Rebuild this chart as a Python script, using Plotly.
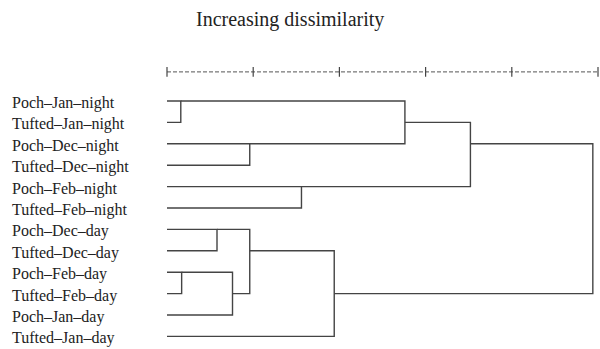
import plotly.graph_objects as go

# ---- data ----
leaf_labels = [
    "Poch–Jan–night", "Tufted–Jan–night", "Poch–Dec–night", "Tufted–Dec–night",
    "Poch–Feb–night", "Tufted–Feb–night", "Poch–Dec–day", "Tufted–Dec–day",
    "Poch–Feb–day", "Tufted–Feb–day", "Poch–Jan–day", "Tufted–Jan–day",
]
# merges: children refer to leaves (0..11) or earlier merges ("m0".."m10")
merge_left = [0, 2, 4, 6, 8, "m4", "m3", "m6", "m0", "m8", "m9"]
merge_right = [1, 3, 5, 7, 9, 10, "m5", 11, "m1", "m2", "m7"]
merge_height = [0.8, 4.8, 7.8, 2.9, 0.85, 3.8, 4.8, 9.7, 13.8, 17.6, 24.7]
merge_row = [0, 2, 4, 6, 8, 9, 7, 9, 1, 2, 2]   # row where the joined branch leaves
tick_values = [0, 5, 10, 15, 20, 25]
title_text = "Increasing dissimilarity"

# ---- geometry helpers ----
def node_info(c):
    if isinstance(c, str):
        i = int(c[1:])
        return merge_height[i], merge_row[i]
    return 0.0, c

xs, ys = [], []
for a, b, h in zip(merge_left, merge_right, merge_height):
    xa, ra = node_info(a)
    xb, rb = node_info(b)
    xs += [xa, h, h, xb, None]
    ys += [ra, ra, rb, rb, None]

LINE = "#444444"
fig = go.Figure()
fig.add_trace(go.Scatter(x=xs, y=ys, mode="lines",
                         line=dict(color=LINE, width=1.4), hoverinfo="skip"))

# dashed scale at top
axis_row = -1.36
fig.add_trace(go.Scatter(x=[tick_values[0], tick_values[-1]], y=[axis_row, axis_row],
                         mode="lines", line=dict(color="#555555", width=1, dash="4px,2px"),
                         hoverinfo="skip"))
fig.add_trace(go.Scatter(x=tick_values, y=[axis_row] * len(tick_values), mode="markers",
                         marker=dict(symbol="line-ns", size=7,
                                     line=dict(color="#444444", width=1.2)),
                         hoverinfo="skip"))

annotations = []
for i, lab in enumerate(leaf_labels):
    annotations.append(dict(x=10 / 600, xref="paper", y=i, yref="y", text=lab,
                            showarrow=False, xanchor="left", yanchor="middle", yshift=-2,
                            font=dict(family="Liberation Serif", size=16, color="#222222")))
annotations.append(dict(x=290 / 600, xref="paper", y=1 - 19 / 349, yref="paper",
                        text=title_text, showarrow=False, xanchor="center", yanchor="middle",
                        font=dict(family="Liberation Serif", size=20, color="#222222")))

px_per_unit = 17.24
x0_px = 167
row0_px = 101
row_px = 21.4
fig.update_layout(
    width=600, height=349,
    margin=dict(l=0, r=0, t=0, b=0),
    paper_bgcolor="white", plot_bgcolor="white",
    showlegend=False,
    xaxis=dict(range=[-x0_px / px_per_unit, (600 - x0_px) / px_per_unit],
               visible=False, fixedrange=True),
    yaxis=dict(range=[(349 - row0_px) / row_px, -row0_px / row_px],
               visible=False, fixedrange=True),
    annotations=annotations,
)
fig.write_html("out.html", config={"displayModeBar": False},
               post_script="document.body.style.margin='0';document.body.style.padding='0';")
